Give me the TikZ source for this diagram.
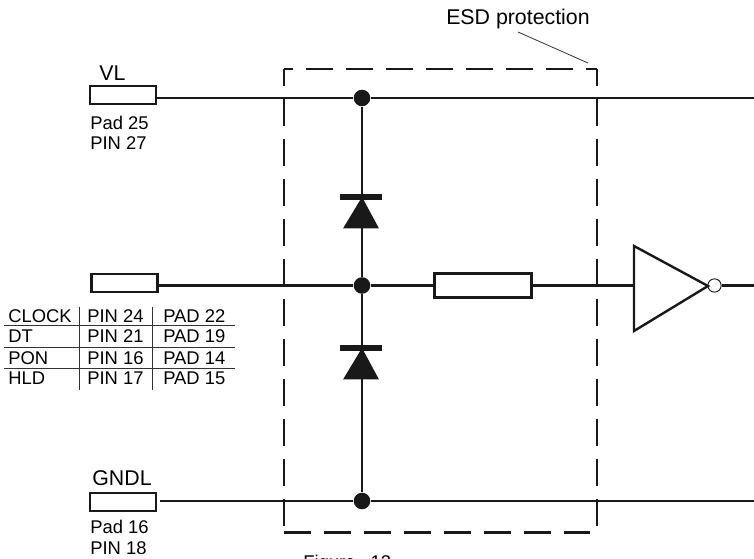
\documentclass[tikz,border=0pt]{standalone}
\usepackage{fontspec}
\setmainfont{Liberation Sans}
\tikzset{
  wire/.style={line width=2.2pt,black!90},
  thinwire/.style={line width=1.6pt,black!90},
  tablerule/.style={line width=0.7pt,black!80},
  framedash/.style={line width=2.2pt,black!90,dash pattern=on 20pt off 10pt},
  padbox/.style={draw,line width=1.9pt,black!90,fill=white,rectangle,minimum width=49.5pt,minimum height=13.5pt,inner sep=0pt},
  joint/.style={circle,fill=black!90,inner sep=0pt,minimum size=12.4pt},
  label/.style={inner sep=0pt,anchor=base west,font=\fontsize{13.8}{13.8}\selectfont},
  biglabel/.style={inner sep=0pt,anchor=base,font=\fontsize{16}{16}\selectfont}
}
\begin{document}
\begin{tikzpicture}[x=0.75pt,y=-0.75pt]
\useasboundingbox (0,0) rectangle (754,559);
\coordinate (VR) at (754,98);
\coordinate (GR) at (754,501);
\coordinate (OR) at (754,285.5);
\coordinate (FrameA) at (284,69);
\coordinate (FrameB) at (597,532.5);
\node [padbox] (PadVL) at (123,95) {};
\node [padbox] (PadIn) at (124.5,283) {};
\node [padbox] (PadGND) at (123,502) {};
\node [joint] (JV) at (362,98) {};
\node [joint] (JM) at (362,285.5) {};
\node [joint] (JG) at (362,501) {};
\draw [wire] (PadVL.east |- JV) -- (JV) -- (VR);
\draw [wire] (PadGND.east |- JG) ++(3,0) -- (JG) -- (GR);
\draw [wire] (JV) -- (JM) -- (JG);
% diodes
\coordinate (D1) at (362,197);
\coordinate (D2) at (362,348);
\draw [wire,line width=4.5pt] (340,197) -- (382,197);
\fill [black!90] (D1) -- (379,228.5) -- (343,228.5) -- cycle;
\draw [wire,line width=4.5pt] (340,348) -- (382,348);
\fill [black!90] (D2) -- (379,379.5) -- (343,379.5) -- cycle;
% resistor and inverter
\node [padbox,minimum width=73pt,minimum height=18pt] (Res) at (483,285.5) {};
\coordinate (InvA) at (634,246);
\coordinate (InvB) at (634,331);
\coordinate (InvC) at (708,286);
\node [circle,draw,line width=0.7pt,black!90,inner sep=0pt,minimum size=10pt] (Bubble) at (714.5,285.5) {};
\draw [thinwire] (PadIn.east |- JM) -- (JM) -- (Res);
\draw [thinwire] (Res) -- (InvA |- OR);
\draw [wire,line width=1.8pt] (InvA) -- (InvB) -- (InvC) -- cycle;
\draw [wire] (Bubble) -- (OR);
% frame
\draw [framedash,dash phase=13.5pt] (FrameA) -- (FrameA -| FrameB);
\draw [framedash] (FrameA |- FrameB) -- (590,532.5);
\draw [framedash,dash phase=7.5pt] (FrameA) -- (284,526);
\draw [framedash,dash phase=7.5pt] (FrameA -| FrameB) -- (597,526);
% labels
\node [biglabel] (TitleESD) at (518,25) {ESD protection};
\coordinate (EsdTip) at (588,63);
\draw [tablerule,line width=0.6pt] (518,32) -- (EsdTip);
\node [biglabel] (LVL) at (112.5,81) {VL};
\node [label] (P25) at (90,130) {Pad 25};
\node [label] (P27) at (90,150) {PIN 27};
\node [biglabel] (LGND) at (122,486) {GNDL};
\node [label] (P16) at (90,534) {Pad 16};
\node [label] (P18) at (90,555) {PIN 18};
\node [label] (Fig) at (303,569) {Figure\ \ \ 13};
% table
\foreach \y/\a/\b/\c in {323/CLOCK/24/22,343/DT/21/19,365/PON/16/14,385/HLD/17/15}{
  \node [label] at (8,\y) {\a};
  \node [label] at (87,\y) {PIN \b};
  \node [label] at (163,\y) {PAD \c};
}
\foreach \y in {325,347,368}{
  \draw [tablerule] (4,\y) -- (235,\y);
}
\draw [tablerule] (79,307) -- (79,390);
\draw [tablerule] (152,307) -- (152,390);
\end{tikzpicture}
\end{document}
